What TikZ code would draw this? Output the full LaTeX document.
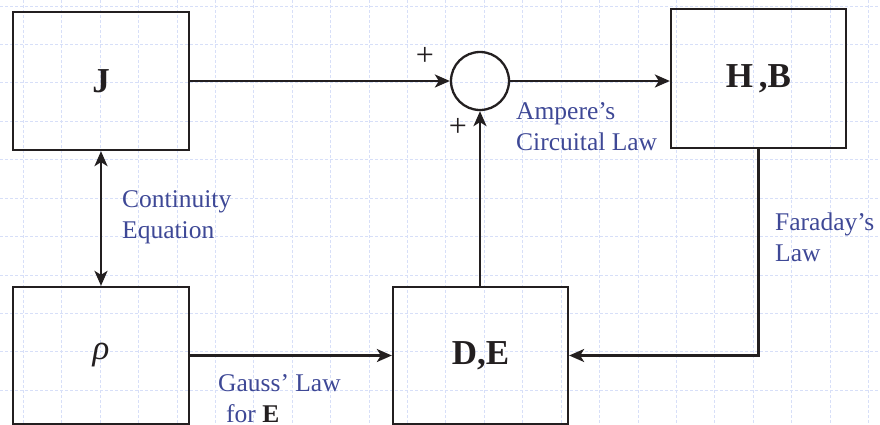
\documentclass[tikz,border=0pt]{standalone}
\usepackage{fontspec}
\setmainfont{Liberation Serif}
\usetikzlibrary{arrows.meta,calc}
\definecolor{lbl}{RGB}{62,72,150}
\definecolor{ink}{RGB}{35,31,32}
\definecolor{gridc}{RGB}{215,223,248}
\begin{document}
\begin{tikzpicture}[x=1pt,y=-1pt,
  blk/.style={draw=ink,line width=2.3pt,minimum width=176pt,minimum height=138pt,inner sep=0pt,
    font=\fontsize{35}{40}\selectfont\bfseries,text=ink},
  sumc/.style={draw=ink,line width=2.3pt,circle,minimum size=58pt,inner sep=0pt},
  arr/.style={draw=ink,line width=2.3pt,-{Stealth[length=15pt,width=13pt,inset=4pt]}},
  darr/.style={draw=ink,line width=2.3pt,{Stealth[length=15pt,width=13pt,inset=4pt]}-{Stealth[length=15pt,width=13pt,inset=4pt]}},
  lawtxt/.style={text=lbl,font=\fontsize{25.5}{31}\selectfont,align=left,anchor=west,inner sep=0pt},
  plus/.style={text=ink,font=\fontsize{32}{34}\selectfont,inner sep=0pt}]
\useasboundingbox (0,0) rectangle (880,424);
\begin{scope}
\clip (0,0) rectangle (880,424);
\foreach \i in {0,...,22} {
  \draw[gridc,line width=0.7pt,dash pattern=on 3pt off 2pt] ({23.2+38.42*\i},0) -- ({23.2+38.42*\i},424);
}
\foreach \j in {0,...,11} {
  \draw[gridc,line width=0.7pt,dash pattern=on 3pt off 2pt] (0,{6+38.42*\j}) -- (880,{6+38.42*\j});
}
\end{scope}
\node[blk] (J) at (101,81) {J};
\node[blk,minimum height=137pt] (rho) at (101,355.5) {\mdseries\itshape ρ};
\node[blk,minimum width=175pt,minimum height=137pt] (DE) at (480.5,355.5) {D,E};
\node[blk,minimum width=175pt,minimum height=139pt] (HB) at (758.5,78.5) {H\,,B};
\node[sumc] (S) at (480,81) {};
\draw[arr] (J.east) -- (S.west);
\draw[arr] (S.east) -- (S.east -| HB.west);
\draw[arr] (S.south |- DE.north) -- (S.south);
\draw[arr] (HB.south) |- (DE.east);
\draw[arr] (rho.east) -- (DE.west);
\draw[darr] (J.south) -- (rho.north);
\node[plus] (p1) at (425,56) {+};
\node[plus] (p2) at (458,127) {+};
\node[lawtxt] (amp) at (516,127) {Ampere’s\\Circuital Law};
\node[lawtxt] (far) at (775,237) {Faraday’s\\Law};
\node[lawtxt] (con) at (122,217) {Continuity\\Equation};
\node[lawtxt] (gau) at (218,399) {Gauss’ Law\\\hspace*{8pt}for \textcolor{ink}{\bfseries E}};
\end{tikzpicture}
\end{document}
